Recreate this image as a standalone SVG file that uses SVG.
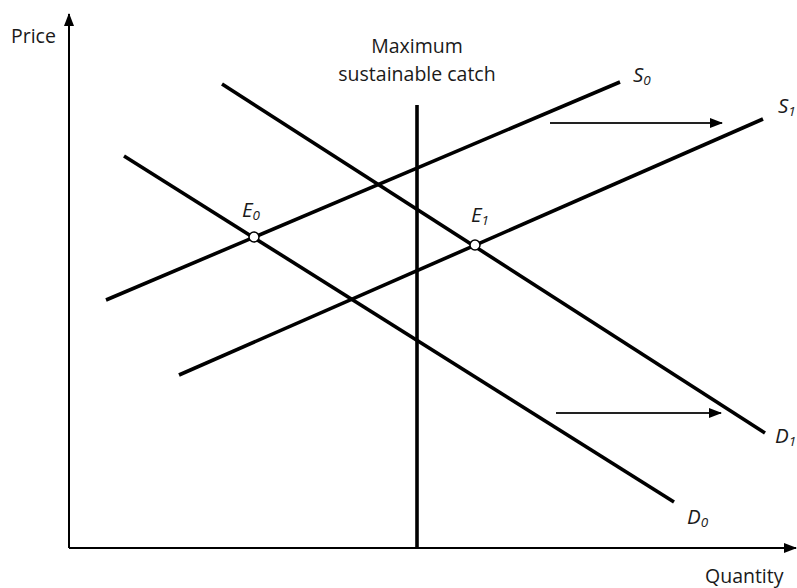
<svg xmlns="http://www.w3.org/2000/svg" width="797" height="588" viewBox="0 0 797 588">
<style>
text{font-family:"Open Sans","Liberation Sans",sans-serif;font-size:19.5px;fill:#1a1a1a}
.it{font-style:italic;font-size:20.5px}
.sub{font-size:13.5px;font-style:italic}
.curve{stroke:#000;stroke-width:3.6;fill:none}
.axis{stroke:#000;stroke-width:2;fill:none}
.shift{stroke:#222;stroke-width:2;fill:none}
.pt{fill:#fff;stroke:#000;stroke-width:1.5}
</style>
<defs>
<marker id="ah2" markerWidth="13" markerHeight="10" refX="12" refY="5" orient="auto" markerUnits="userSpaceOnUse"><path d="M0,0 L13,5 L0,10 Z" fill="#000"/></marker>
</defs>
<g id="connectors">
<line class="axis" x1="69" y1="548" x2="69" y2="14" marker-end="url(#ah2)"/>
<line class="axis" x1="69" y1="548" x2="796" y2="548" marker-end="url(#ah2)"/>
<line class="curve" x1="417" y1="105" x2="417" y2="548"/>
<line class="curve" x1="106" y1="300" x2="620" y2="82"/>
<line class="curve" x1="179" y1="375" x2="763" y2="119"/>
<line class="curve" x1="124" y1="156" x2="674" y2="502"/>
<line class="curve" x1="222" y1="84" x2="765" y2="433"/>
<line class="shift" x1="550" y1="123" x2="722" y2="123" marker-end="url(#ah2)"/>
<line class="shift" x1="556" y1="413" x2="721" y2="413" marker-end="url(#ah2)"/>
</g>
<g id="E0"><circle class="pt" cx="254" cy="237" r="5"/><text x="242" y="217" class="it">E<tspan class="sub" dy="3">0</tspan></text></g>
<g id="E1"><circle class="pt" cx="475" cy="245" r="5"/><text x="471" y="222" class="it">E<tspan class="sub" dy="3">1</tspan></text></g>
<g id="S0"><text x="633" y="82" class="it">S<tspan class="sub" dy="3">0</tspan></text></g>
<g id="S1"><text x="778" y="113" class="it">S<tspan class="sub" dy="3">1</tspan></text></g>
<g id="D1"><text x="775" y="443" class="it">D<tspan class="sub" dy="3">1</tspan></text></g>
<g id="D0"><text x="687" y="524" class="it">D<tspan class="sub" dy="3">0</tspan></text></g>
<g id="maxcatch"><text x="417" y="53" text-anchor="middle">Maximum</text><text x="417" y="81" text-anchor="middle">sustainable catch</text></g>
<g id="labels"><text x="11" y="43">Price</text><text x="705" y="583">Quantity</text></g>
</svg>
